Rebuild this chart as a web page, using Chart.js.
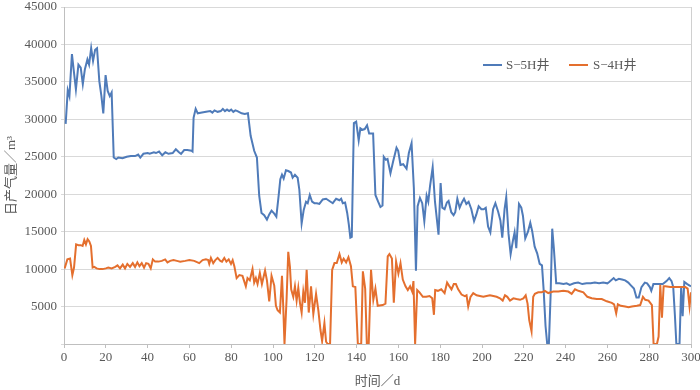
<!DOCTYPE html>
<html>
<head>
<meta charset="utf-8">
<script src="https://cdn.jsdelivr.net/npm/chart.js@4/dist/chart.umd.min.js"></script>
<style>
html,body{margin:0;padding:0;background:#fff;}
#wrap{width:700px;height:390px;position:relative;}
</style>
</head>
<body>
<div id="wrap"><canvas id="c" width="700" height="390"></canvas></div>
<script>
const seriesNames = ['S−5H井', 'S−4H井'];
const xTitle = '时间／d';
const yTitle = '日产气量／m³';

const s5hDays = [0.8,1.8,2.6,3.8,4.8,5.7,6.9,8,9,10,11.2,12,13,13.9,14.9,15.8,16.9,17.9,18.8,19.9,20.9,21.9,22.8,23.8,25,26,28,30,32,34,35.5,36.5,38,40,41,43,44,45.5,47,48.5,50,52,53.5,55,56,57.5,59,61,61.5,62,63,64,66,68,70,71,72,73.5,75,76,77,78,79,80,81,82,83,85,86.5,88,89.3,91,92.3,93.4,94.5,95.8,97.1,98.2,99.3,100.6,101.6,102.7,103.5,104.3,105.1,106.2,107.3,108.6,109.4,110.5,111.8,112.6,113.7,114.7,115.8,116.6,117.6,118.7,119.8,121,122.2,123.8,125.4,127,128.6,130.2,131.8,132.6,133.4,134.5,135.5,136.3,137,137.7,138.7,139.8,141,141.8,142.8,143.9,145,146,147.9,149,150.3,151.4,152.4,153,154,154.8,156.2,157.5,159.1,159.9,161,162.3,163.9,165,166.3,167.4,168.4,169.2,170.3,171.4,172.4,173.5,174.3,175.1,176.4,177.5,179.2,180.2,181,182.1,183.2,184,185.3,186.4,187.2,188.2,189.3,190.4,191.4,192.5,193.6,194.9,196.2,197.3,198.4,199.7,200.8,201.8,202.9,204,205.3,206.4,207.7,208.8,209.7,210.8,211.6,212.7,213.7,214.8,215.6,216.4,217.7,218.8,219.6,220.7,222,223.1,224,225.2,226.4,227.6,228.7,229.5,230.4,231.2,232,232.8,233.6,234.4,235.5,237,239,240.5,242,244,246,248,250,252,254,256,258,260,261,263,264,265.5,267,268.5,270,271,272.7,273.9,275,276.3,277.9,279,280.3,281,282,284,286.5,288.3,289.6,290.7,291.5,292.3,293,294.5,295.3,296,296.8,298.2,300];
const s5hValues = [29400,33900,33100,38700,36200,34000,37300,36900,34700,36700,38000,37300,39500,37800,39300,39500,35100,33100,30800,35900,33800,33100,33600,24900,24700,24900,24800,25000,25100,25100,25300,24900,25400,25500,25400,25600,25500,25700,25200,25600,25400,25500,26000,25600,25400,25900,25900,25800,25700,30200,31400,30800,30900,31000,31100,30900,31200,31000,31100,31400,31100,31300,31100,31300,31000,31200,31100,30800,30700,30800,27800,25800,24900,19800,17500,17200,16600,17300,17800,17400,17000,19800,22000,22600,22100,23200,23100,22900,22200,22600,22200,20600,16100,17900,19000,18800,19900,19000,18800,18800,18700,19300,19400,19100,18800,19400,19200,19400,18800,18900,17500,15900,14200,14300,29500,29700,27200,28800,28600,28700,29200,28100,28100,19900,19000,18300,18500,25000,24600,24700,22800,24400,26200,25800,23900,24000,23400,25500,26800,20800,9800,18400,19500,18800,16400,19800,19000,21000,23600,19000,14600,21500,18200,18000,18900,19100,17600,17200,17600,19400,18200,18900,19400,18700,19000,18000,16400,17300,18400,18000,18000,18200,15700,14900,18000,18800,17700,16500,14200,18000,19600,14700,12000,13800,14900,12800,18700,18200,17100,14100,15000,16200,15100,13000,12100,10700,10500,7200,2400,0,0,6300,15400,12700,8100,8100,8000,8100,7900,8100,8200,8000,8100,8100,8200,8100,8200,8100,8300,8800,8500,8700,8600,8500,8200,7900,7400,6200,6200,7600,8200,8100,7600,7100,8000,8000,8000,8400,8800,8400,7600,3800,0,0,7700,3700,8300,8000,7700];

const s4hDays = [0.3,1.6,2.9,4,4.8,5.8,6.9,8,8.9,9.7,10.5,11.3,12.1,12.9,13.7,14.5,15.6,17,18.5,20,21.2,22.8,24.5,25.6,26.8,28.1,29.2,30.3,31.6,32.9,34,35.1,36.1,37.2,38.3,39.3,40.4,41.5,42.5,43.6,45.2,46.8,48.4,49.5,50.8,52.4,54,55.6,58,60,62.3,64.7,66.3,67.9,69,69.5,70.3,71.4,72.4,73.5,74.8,75.6,76.7,77.7,78.8,79.9,80.7,81.5,82.6,83.9,85.4,87,87.8,88.9,90.2,91,91.8,92.6,93.7,94.7,96.2,97.1,98.2,99.3,100.6,101.4,102.2,103.3,104.3,104.9,105.5,106.5,107.3,108.1,108.7,109.7,110.5,111.3,112.1,112.9,113.7,114.5,115.3,116.1,117.1,118.2,119.3,120.6,121.7,122.7,123.5,124.6,125.4,126.2,127.3,128.3,129.4,130.5,131.8,132.9,133.8,135,136.1,137.3,138.2,139.4,140.6,142.2,143,144.1,144.9,145.8,146.9,148,149,150.1,152.5,153.8,154.9,155.7,156.9,157.8,158.9,160,161,162.1,163.4,164.5,165.6,166.6,167.2,168,169,170.1,171.7,173.3,174.9,176.2,177,177.6,178.9,180.5,182.1,183.3,184.2,185.4,186.5,187.5,188.6,190.2,191.8,192.6,193.4,194.5,195.8,197.4,199,200.6,202.2,203.8,205.4,207,208.6,209.9,211,212.1,213.4,215,216.5,218.2,219.8,220.9,221.8,222.6,223.7,224.5,225.3,226.9,228.5,230.1,231.7,234.1,236.5,238.9,241.3,242.9,244.5,246.1,248.5,250.4,252.5,254.9,257.3,259.7,262.1,263.2,264.2,265,266.4,268.5,270.1,271.7,274.1,275.7,277,278.1,279.7,281.3,282.1,283.7,284.5,285.3,286.1,286.9,287.7,290.1,292.5,294.9,297.3,298.4,299.3,300];
const s4hValues = [10100,11300,11400,9200,10200,13300,13200,13200,13100,13900,13300,14000,13700,13100,10200,10300,10100,10000,10000,10100,10200,10100,10300,10500,10100,10600,10100,10700,10300,10800,10300,10900,10400,10800,10200,10800,10700,10100,11300,11000,11000,11100,11300,10900,11100,11200,11100,11000,11100,11200,11100,10800,11200,11300,11200,10700,11500,10800,11200,11500,11100,11000,11500,11000,11300,10700,11200,10400,8800,9200,9100,7700,8800,8500,10000,8200,8800,8000,9500,8000,9800,8500,5700,9100,7800,5100,4500,4200,9100,5000,0,6000,12300,10300,7300,6300,7700,5800,7500,5500,4200,7000,5500,9900,4200,7700,4000,6700,4500,1900,400,2800,300,0,0,9900,10800,10800,12000,10900,11400,10900,11600,10400,7700,7600,0,0,9700,7400,0,0,9900,5900,7400,5100,5200,5400,11700,12000,11400,5500,11000,9400,10800,8600,7700,7200,7700,7000,8400,0,7200,6900,6300,6300,6400,6100,3900,7200,7100,7300,6800,8200,7800,7300,8000,8000,7300,6600,6400,6500,5000,6300,6800,6500,6400,6300,6400,6500,6400,6300,6100,5800,6500,6300,5800,6100,6000,5900,6100,6500,5400,3200,1700,6300,6700,6900,6900,7100,6800,7000,7000,7100,7000,6700,7300,7100,6900,6300,6100,6000,6000,5700,5500,5300,4100,5300,5100,5000,4900,5000,5100,5200,6300,5900,5800,5200,0,0,1000,7900,3500,7700,7700,7600,7600,7600,7600,7400,5000,6900];

const xTicks = [0,20,40,60,80,100,120,140,160,180,200,220,240,260,280,300];
const yTicks = [5000,10000,15000,20000,25000,30000,35000,40000,45000];

const colors = ['#4f7bb9', '#e46f2e'];
const FONT = "'Liberation Serif', 'Noto Sans CJK SC', serif";
const TEXT = '#595959';

function pts(xs, ys){ return xs.map((x,i)=>({x:x, y:ys[i]})); }

const customLegend = {
  id: 'customLegend',
  afterDraw(chart){
    const ctx = chart.ctx;
    const items = [
      {lx:483, tx:506, y:65},
      {lx:569, tx:593, y:65}
    ];
    ctx.save();
    chart.data.datasets.forEach((ds,i)=>{
      const it = items[i];
      ctx.strokeStyle = ds.borderColor;
      ctx.lineWidth = 2;
      ctx.beginPath();
      ctx.moveTo(it.lx, it.y);
      ctx.lineTo(it.lx+19, it.y);
      ctx.stroke();
      ctx.fillStyle = TEXT;
      ctx.font = "13px " + FONT;
      ctx.textBaseline = 'middle';
      ctx.textAlign = 'left';
      ctx.fillText(ds.label, it.tx, it.y+1);
    });
    const a = chart.chartArea;
    ctx.strokeStyle = '#d0d0d0';
    ctx.lineWidth = 1;
    ctx.beginPath();
    ctx.moveTo(Math.round(a.right)+0.5, a.top);
    ctx.lineTo(Math.round(a.right)+0.5, a.bottom);
    ctx.stroke();
    ctx.restore();
  }
};

new Chart(document.getElementById('c'), {
  type: 'line',
  data: {
    datasets: [
      {label: seriesNames[0], data: pts(s5hDays, s5hValues), borderColor: colors[0], backgroundColor: colors[0], borderWidth: 2, pointRadius: 0, tension: 0, order: 2},
      {label: seriesNames[1], data: pts(s4hDays, s4hValues), borderColor: colors[1], backgroundColor: colors[1], borderWidth: 2, pointRadius: 0, tension: 0, order: 1}
    ]
  },
  options: {
    responsive: false,
    animation: false,
    layout: {padding: {left: 0, right: 9, top: 7, bottom: 0}},
    plugins: {legend: {display: false}, tooltip: {enabled: false}},
    scales: {
      x: {
        type: 'linear', min: 0, max: 300,
        afterBuildTicks(s){ s.ticks = xTicks.map(v=>({value:v})); },
        afterFit(s){ s.height = 46; s.paddingRight = 0; s.paddingLeft = 0; },
        ticks: {font: {family: FONT, size: 13}, color: TEXT, padding: 2, maxRotation: 0},
        grid: {drawOnChartArea: false, drawTicks: true, tickLength: 4, color: '#bfbfbf'},
        border: {color: '#bfbfbf', width: 1},
        title: {display: true, text: xTitle, font: {family: FONT, size: 13}, color: TEXT, padding: {top: 0, bottom: 1}}
      },
      y: {
        min: 0, max: 45000,
        afterBuildTicks(s){ s.ticks = [0].concat(yTicks).map(v=>({value:v})); },
        afterFit(s){ s.width = 64; s.paddingTop = 0; s.paddingBottom = 0; },
        ticks: {font: {family: FONT, size: 13}, color: TEXT, padding: 4, callback: v => v === 0 ? '' : String(v)},
        grid: {color: '#d9d9d9', lineWidth: 1, tickLength: 3},
        border: {color: '#bfbfbf', width: 1},
        title: {display: true, text: yTitle, font: {family: FONT, size: 13}, color: TEXT, padding: {top: 4, bottom: 0}}
      }
    }
  },
  plugins: [customLegend]
});
</script>
</body>
</html>
